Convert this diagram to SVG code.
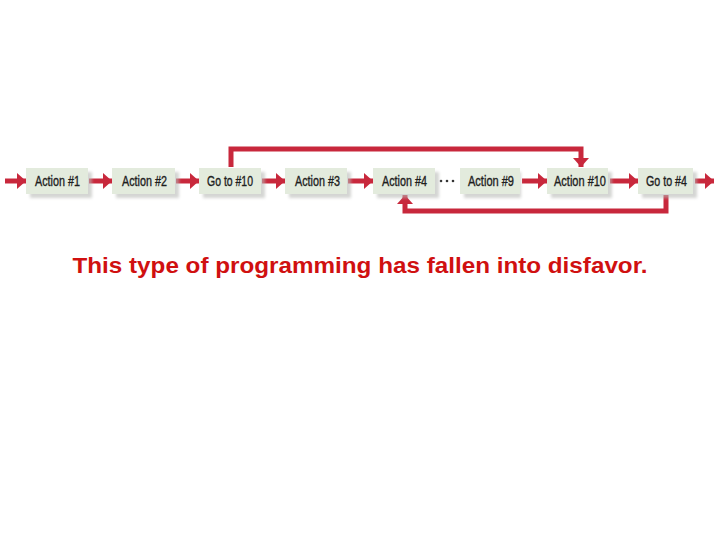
<svg xmlns="http://www.w3.org/2000/svg" width="720" height="540" viewBox="0 0 720 540">
<style>
.box{fill:#e3ebdd}
.sh{fill:#b8bab6;opacity:0.6}
.lbl{font-family:"Liberation Sans",Arial,sans-serif;font-size:14px;fill:#1e1e1e;stroke:#1e1e1e;stroke-width:0.35}
.ln{stroke:#c8283c;stroke-width:5;fill:none}
.cap{font-family:"Liberation Sans",Arial,sans-serif;font-weight:bold;font-size:22px;fill:#d01010}
</style>
<defs>
<marker id="ah" markerWidth="1.9" markerHeight="3.2" refX="1.8" refY="1.6" orient="auto" markerUnits="strokeWidth">
<path d="M0,0 L1.8,1.6 L0,3.2 Z" fill="#c8283c"/>
</marker>
<filter id="blur" x="-20%" y="-20%" width="140%" height="140%"><feGaussianBlur stdDeviation="1.5"/></filter>
</defs>
<rect width="720" height="540" fill="#fff"/>
<g id="connectors">
<line class="ln" x1="5" y1="181" x2="26" y2="181" marker-end="url(#ah)"/>
<line class="ln" x1="89" y1="181" x2="112" y2="181" marker-end="url(#ah)"/>
<line class="ln" x1="176" y1="181" x2="199" y2="181" marker-end="url(#ah)"/>
<line class="ln" x1="262" y1="181" x2="285" y2="181" marker-end="url(#ah)"/>
<line class="ln" x1="348" y1="181" x2="373" y2="181" marker-end="url(#ah)"/>
<line class="ln" x1="522" y1="181" x2="547" y2="181" marker-end="url(#ah)"/>
<line class="ln" x1="610" y1="181" x2="638" y2="181" marker-end="url(#ah)"/>
<line class="ln" x1="695" y1="181" x2="714" y2="181" marker-end="url(#ah)"/>
<polyline class="ln" points="231,167 231,149 581,149 581,167" marker-end="url(#ah)"/>
<polyline class="ln" points="666,195 666,211 405,211 405,195" marker-end="url(#ah)"/>
<circle cx="441" cy="181" r="1.3" fill="#333"/><circle cx="447" cy="181" r="1.3" fill="#333"/><circle cx="453" cy="181" r="1.3" fill="#333"/>
</g>
<g id="n1"><rect class="sh" x="30" y="172" width="62" height="26" filter="url(#blur)"/><rect class="box" x="26" y="168" width="62" height="26"/><text class="lbl" x="35" y="186" textLength="45" lengthAdjust="spacingAndGlyphs">Action #1</text></g>
<g id="n2"><rect class="sh" x="116" y="172" width="63" height="26" filter="url(#blur)"/><rect class="box" x="112" y="168" width="63" height="26"/><text class="lbl" x="122" y="186" textLength="45" lengthAdjust="spacingAndGlyphs">Action #2</text></g>
<g id="n3"><rect class="sh" x="203" y="172" width="62" height="26" filter="url(#blur)"/><rect class="box" x="199" y="168" width="62" height="26"/><text class="lbl" x="207" y="186" textLength="46" lengthAdjust="spacingAndGlyphs">Go to #10</text></g>
<g id="n4"><rect class="sh" x="289" y="172" width="62" height="26" filter="url(#blur)"/><rect class="box" x="285" y="168" width="62" height="26"/><text class="lbl" x="295" y="186" textLength="45" lengthAdjust="spacingAndGlyphs">Action #3</text></g>
<g id="n5"><rect class="sh" x="377" y="172" width="62" height="26" filter="url(#blur)"/><rect class="box" x="373" y="168" width="62" height="26"/><text class="lbl" x="382" y="186" textLength="45" lengthAdjust="spacingAndGlyphs">Action #4</text></g>
<g id="n6"><rect class="sh" x="464" y="172" width="57" height="26" filter="url(#blur)"/><rect class="box" x="460" y="168" width="60" height="26"/><text class="lbl" x="468" y="186" textLength="46" lengthAdjust="spacingAndGlyphs">Action #9</text></g>
<g id="n7"><rect class="sh" x="551" y="172" width="61" height="26" filter="url(#blur)"/><rect class="box" x="547" y="168" width="61" height="26"/><text class="lbl" x="554" y="186" textLength="52" lengthAdjust="spacingAndGlyphs">Action #10</text></g>
<g id="n8"><rect class="sh" x="642" y="172" width="55" height="26" filter="url(#blur)"/><rect class="box" x="638" y="168" width="55" height="26"/><text class="lbl" x="646" y="186" textLength="41" lengthAdjust="spacingAndGlyphs">Go to #4</text></g>
<text class="cap" x="360" y="273" text-anchor="middle" textLength="575" lengthAdjust="spacingAndGlyphs">This type of programming has fallen into disfavor.</text>
</svg>
